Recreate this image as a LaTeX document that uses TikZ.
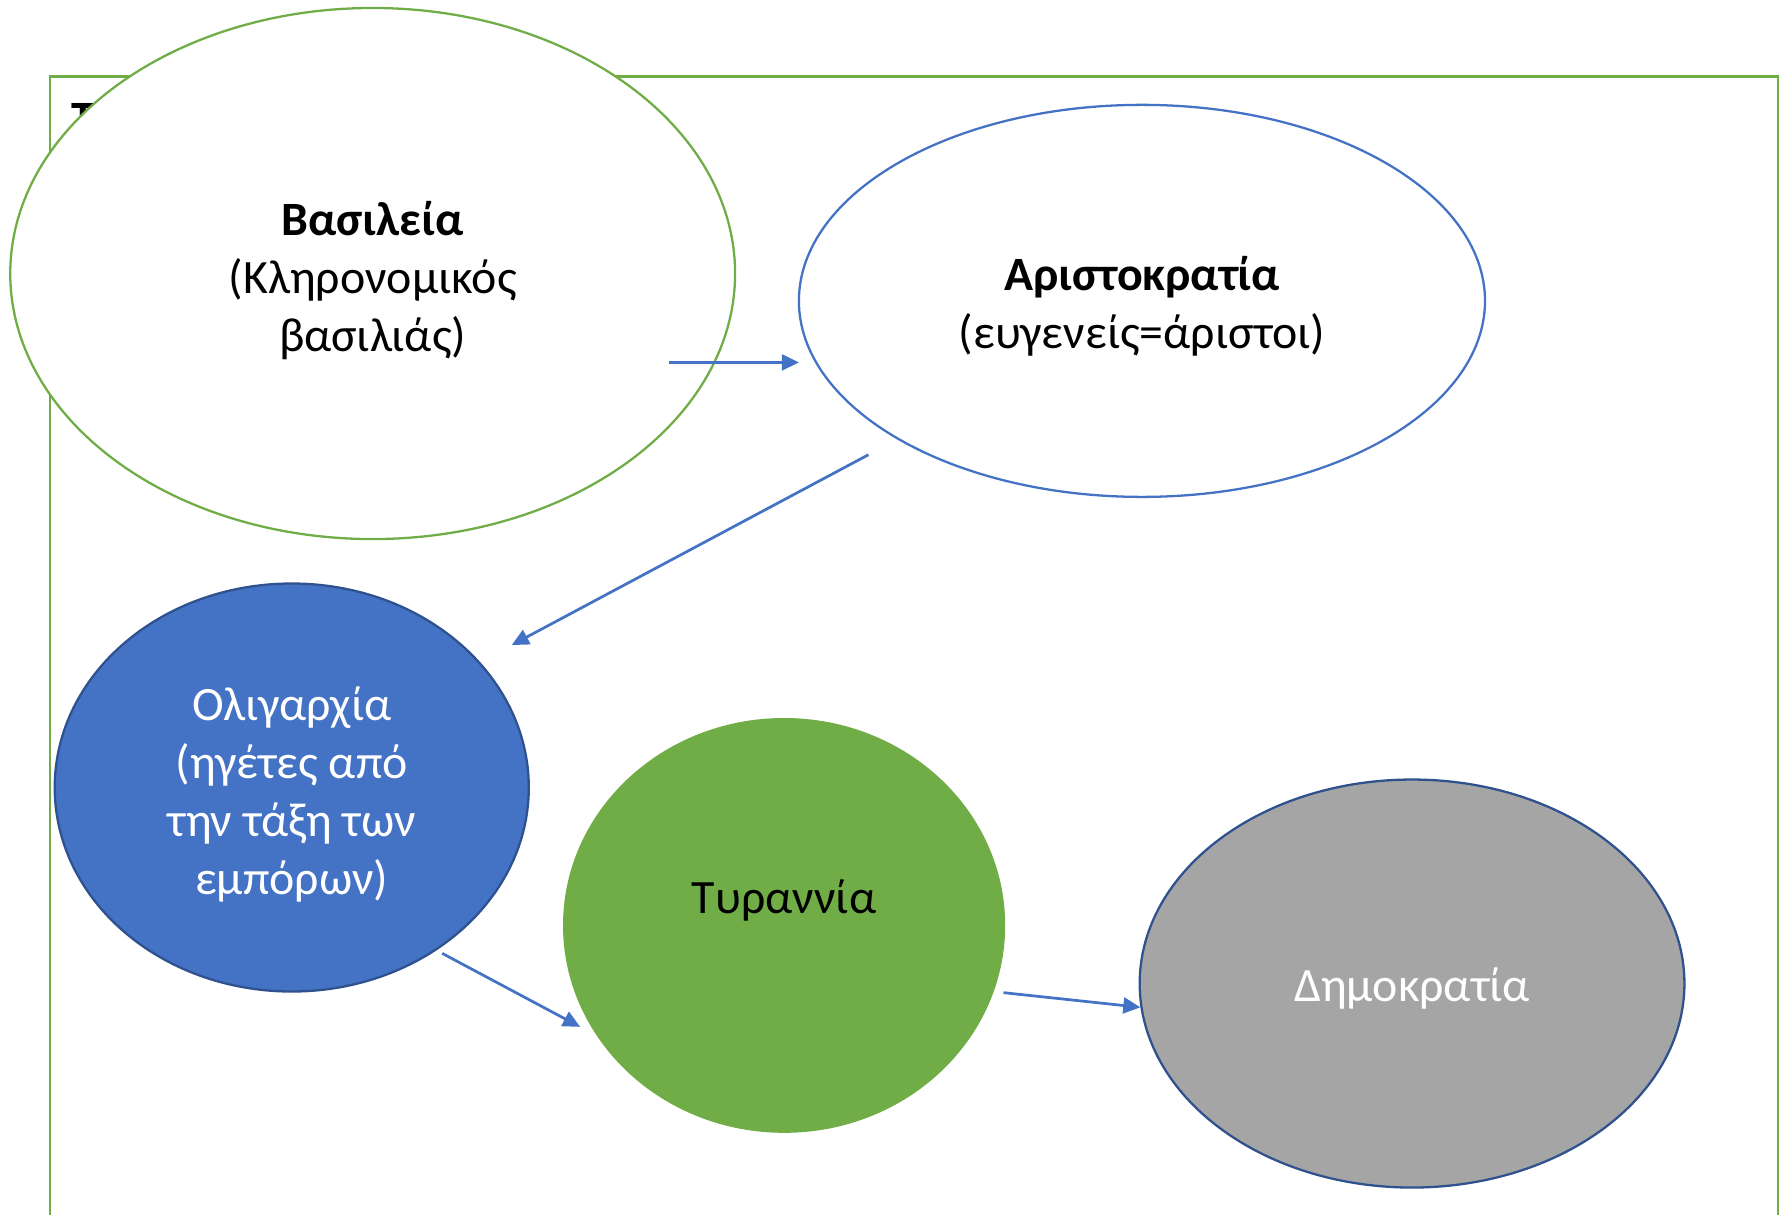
\documentclass[tikz,border=0pt]{standalone}
\usepackage{fontspec}
\setmainfont{Carlito}
\usetikzlibrary{shapes.geometric,arrows.meta}
\definecolor{cblue}{HTML}{4472C4}
\definecolor{cgreen}{HTML}{70AD47}
\definecolor{cgray}{HTML}{A5A5A5}
\definecolor{cdark}{HTML}{2F528F}
\newcommand{\uplift}[1]{\rule{0pt}{#1}}
\begin{document}
\begin{tikzpicture}[x=0.5pt,y=-0.5pt,
  ell/.style={ellipse, inner sep=0pt, line width=1pt, align=center,
    font=\fontsize{21}{25.5}\selectfont},
  conn/.style={draw=cblue, line width=1.2pt, -{Triangle[length=7.5pt,width=7pt]}, fill=cblue}]
\useasboundingbox (0,0) rectangle (1568,1066);
\draw[cgreen, line width=1pt] (44,67) rectangle (1560,1080);
\node[anchor=north west, inner sep=0pt, font=\fontsize{21}{25.5}\bfseries] (title) at (62,90) {Τ};
\node[ell, draw=cgreen, fill=white, minimum width=318pt, minimum height=233pt] (bas) at (327,240)
  {\uplift{21pt}\textbf{Βασιλεία}\\(Κληρονομικός\\βασιλιάς)};
\node[ell, draw=cblue, fill=white, minimum width=301pt, minimum height=172pt] (ari) at (1002,264)
  {\uplift{20pt}\textbf{Αριστοκρατία}\\(ευγενείς=άριστοι)};
\node[ell, draw=cdark, fill=cblue, text=white, minimum width=208pt, minimum height=179pt] (oli) at (256,691)
  {\uplift{21pt}Ολιγαρχία\\(ηγέτες από\\την τάξη των\\εμπόρων)};
\node[ell, draw=cgreen, fill=cgreen, minimum width=193pt, minimum height=181pt] (tyr) at (688,812)
  {Τυραννία\\[-8pt]\strut};
\node[ell, draw=cdark, fill=cgray, text=white, minimum width=239pt, minimum height=179pt] (dem) at (1239,863)
  {\uplift{19pt}Δημοκρατία};
\coordinate (a1s) at (587,318);
\coordinate (a1e) at (701,318);
\coordinate (a2s) at (762,399);
\coordinate (a2e) at (449,566);
\coordinate (a3s) at (388,836.5);
\coordinate (a3e) at (509,901);
\coordinate (a4s) at (880.5,871);
\path[conn] (a1s) -- (a1e);
\path[conn] (a2s) -- (a2e);
\path[conn] (a3s) -- (a3e);
\path[conn] (a4s) -- (dem.185);
\end{tikzpicture}
\end{document}
